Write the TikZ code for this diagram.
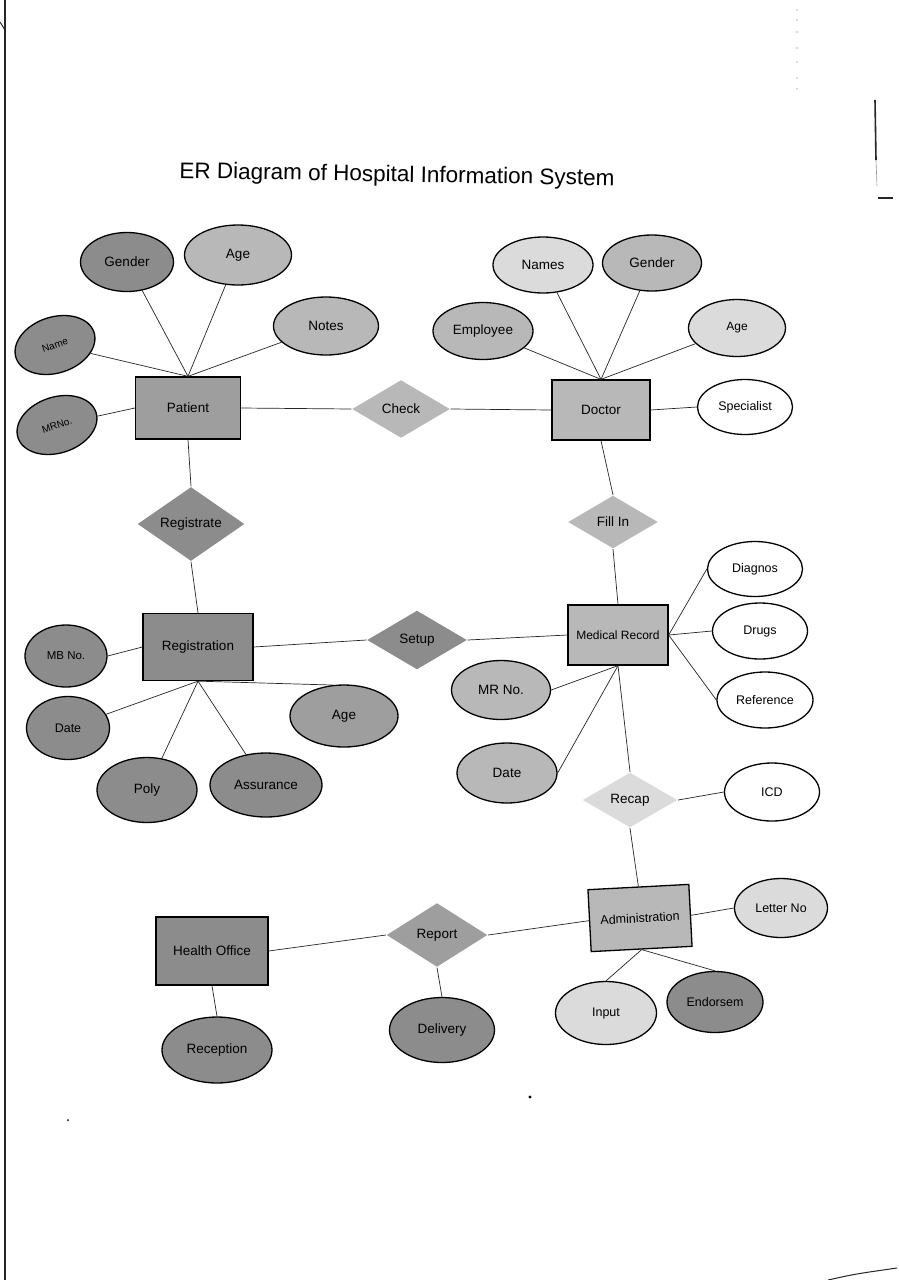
\documentclass[tikz,border=0pt]{standalone}
\usepackage{fontspec}
\setmainfont{Liberation Sans}
\usetikzlibrary{shapes.geometric}
\definecolor{dk}{gray}{0.55}
\definecolor{mdk}{gray}{0.62}
\definecolor{md}{gray}{0.72}
\definecolor{lt}{gray}{0.86}
\tikzset{
  base/.style={draw=black, line width=1.3pt, inner sep=1pt, font=\fontsize{13.5}{15}\selectfont},
  ent/.style={base, rectangle},
  attr/.style={base, ellipse},
  rel/.style={base, diamond, draw=none, inner sep=0pt},
  conn/.style={line width=0.7pt, black!85},
  scanmark/.style={black!85}
}
\begin{document}
\begin{tikzpicture}[x=1pt,y=-1pt]
\fill[white] (0,0) rectangle (898,1280);
\useasboundingbox (0,0) rectangle (898,1280);

% scan marks
\draw[scanmark, line width=2pt] (5,0) -- (5,1280);
\draw[scanmark, line width=1pt] (0,22) -- (5,30);
\draw[scanmark, line width=1.6pt] (875,100) -- (876,160);
\draw[scanmark, line width=0.6pt, black!40] (876,160) -- (877,186);
\draw[scanmark, line width=1.4pt] (878,198) -- (893,198);
\draw[scanmark, line width=1pt] (828,1280) .. controls (855,1274) .. (897,1268);
\fill (530,1097) circle (1.6pt);
\fill (68,1120) circle (1pt);
\foreach \yy in {10,20,32,48,62,78,89} \fill[black!60] (797,\yy) circle (0.7pt);

% title
\node[rotate=-1, font=\fontsize{22.5}{26}\selectfont] (title) at (397,176) {ER Diagram of Hospital Information System};

% ---------- Patient ----------
\node[ent, fill=mdk, minimum width=105pt, minimum height=62pt] (patient) at (188,408) {Patient};
\node[attr, fill=dk, minimum width=93pt, minimum height=59pt] (pgender) at (127,262) {Gender};
\node[attr, fill=md, minimum width=107pt, minimum height=60pt] (page) at (238,255) {Age};
\node[attr, fill=md, minimum width=105pt, minimum height=58pt] (pnotes) at (326,326) {Notes};
\node[attr, fill=dk, minimum width=82pt, minimum height=56pt, rotate=18, font=\fontsize{10}{12}\selectfont] (pname) at (55,345) {Name};
\node[attr, fill=dk, minimum width=82pt, minimum height=56pt, rotate=18, font=\fontsize{10}{12}\selectfont] (pmrno) at (57,425) {MRNo.};
\node[rel, fill=md, minimum width=98pt, minimum height=58pt] (check) at (401,409) {Check};

% ---------- Doctor ----------
\node[ent, fill=md, minimum width=98pt, minimum height=60pt] (doctor) at (601,410) {Doctor};
\node[attr, fill=lt, minimum width=100pt, minimum height=56pt] (dnames) at (543,265) {Names};
\node[attr, fill=md, minimum width=99pt, minimum height=56pt] (dgender) at (652,263) {Gender};
\node[attr, fill=md, minimum width=100pt, minimum height=57pt] (demployee) at (483,331) {Employee};
\node[attr, fill=lt, minimum width=97pt, minimum height=57pt, font=\fontsize{12}{14}\selectfont] (dage) at (737,328) {Age};
\node[attr, fill=white, minimum width=95pt, minimum height=55pt, font=\fontsize{12.5}{14}\selectfont] (dspec) at (745,407) {Specialist};

% ---------- Relations ----------
\node[rel, fill=dk, minimum width=107pt, minimum height=54pt] (registrate) at (191,524) {Registrate};
\node[rel, fill=md, minimum width=90pt, minimum height=53pt] (fillin) at (613,522) {Fill In};

% ---------- Registration ----------
\node[ent, fill=dk, minimum width=110pt, minimum height=67pt] (registration) at (198,647) {Registration};
\node[rel, fill=dk, minimum width=100pt, minimum height=59pt] (setup) at (417,640) {Setup};
\node[attr, fill=dk, minimum width=82pt, minimum height=62pt, font=\fontsize{11.5}{13}\selectfont] (rmbno) at (66,656) {MB No.};
\node[attr, fill=dk, minimum width=83pt, minimum height=63pt, font=\fontsize{12.5}{14}\selectfont] (rdate) at (68,728) {Date};
\node[attr, fill=dk, minimum width=100pt, minimum height=65pt] (rpoly) at (147,790) {Poly};
\node[attr, fill=dk, minimum width=112pt, minimum height=64pt] (rassur) at (266,785) {Assurance};
\node[attr, fill=mdk, minimum width=108pt, minimum height=62pt] (rage) at (344,716) {Age};

% ---------- Medical Record ----------
\node[ent, fill=md, minimum width=100pt, minimum height=60pt, font=\fontsize{12}{14}\selectfont] (mr) at (618,635) {Medical Record};
\node[attr, fill=white, minimum width=95pt, minimum height=55pt, font=\fontsize{12.5}{14}\selectfont] (mdiag) at (755,569) {Diagnos};
\node[attr, fill=white, minimum width=95pt, minimum height=56pt, font=\fontsize{12.5}{14}\selectfont] (mdrugs) at (760,631) {Drugs};
\node[attr, fill=white, minimum width=96pt, minimum height=56pt, font=\fontsize{12.5}{14}\selectfont] (mref) at (765,700) {Reference};
\node[attr, fill=md, minimum width=99pt, minimum height=59pt] (mmrno) at (501,690) {MR No.};
\node[attr, fill=md, minimum width=100pt, minimum height=60pt] (mdate) at (507,773) {Date};
\node[rel, fill=lt, minimum width=95pt, minimum height=55pt] (recap) at (630,800) {Recap};
\node[attr, fill=white, minimum width=95pt, minimum height=58pt, font=\fontsize{12.5}{14}\selectfont] (micd) at (772,792) {ICD};

% ---------- Administration ----------
\node[ent, fill=md, minimum width=101pt, minimum height=62pt, rotate=3, font=\fontsize{12.5}{14}\selectfont] (admin) at (640,918) {Administration};
\node[attr, fill=lt, minimum width=93pt, minimum height=59pt, font=\fontsize{12.5}{14}\selectfont] (aletter) at (781,908) {Letter No};
\node[attr, fill=lt, minimum width=101pt, minimum height=63pt, font=\fontsize{12.5}{14}\selectfont] (ainput) at (606,1013) {Input};
\node[attr, fill=dk, minimum width=96pt, minimum height=61pt, font=\fontsize{12.5}{14}\selectfont] (aendors) at (715,1002) {Endorsem};

% ---------- Health Office ----------
\node[ent, fill=dk, minimum width=112pt, minimum height=68pt] (health) at (212,951) {Health Office};
\node[rel, fill=mdk, minimum width=101pt, minimum height=64pt] (report) at (437,935) {Report};
\node[attr, fill=dk, minimum width=110pt, minimum height=66pt] (hrecep) at (217,1050) {Reception};
\node[attr, fill=dk, minimum width=105pt, minimum height=65pt] (rdeliv) at (442,1030) {Delivery};

% ---------- connectors ----------
\draw[conn] (pgender) -- (patient.north);
\draw[conn] (page) -- (patient.north);
\draw[conn] (pnotes) -- (patient.north);
\draw[conn] (pname) -- (patient.north);
\draw[conn] (pmrno) -- (patient.west);
\draw[conn] (patient.east) -- (check.west);
\draw[conn] (check.east) -- (doctor.west);
\draw[conn] (dnames) -- (doctor.north);
\draw[conn] (dgender) -- (doctor.north);
\draw[conn] (demployee) -- (doctor.north);
\draw[conn] (dage) -- (doctor.north);
\draw[conn] (doctor.east) -- (dspec.west);
\draw[conn] (patient.south) -- (registrate.north);
\draw[conn] (registrate.south) -- (registration.north);
\draw[conn] (doctor.south) -- (fillin.north);
\draw[conn] (fillin.south) -- (mr.north);
\draw[conn] (rmbno.east) -- (registration.west);
\draw[conn] (rdate) -- (registration.south);
\draw[conn] (rpoly) -- (registration.south);
\draw[conn] (rassur) -- (registration.south);
\draw[conn] (registration.south) -- (rage.110);
\draw[conn] (registration.east) -- (setup.west);
\draw[conn] (setup.east) -- (mr.west);
\draw[conn] (mr.east) -- (mdiag.west);
\draw[conn] (mr.east) -- (mdrugs.west);
\draw[conn] (mr.east) -- (mref.west);
\draw[conn] (mr.south) -- (mmrno.east);
\draw[conn] (mr.south) -- (mdate.east);
\draw[conn] (mr.south) -- (recap.north);
\draw[conn] (recap.east) -- (micd.west);
\draw[conn] (recap.south) -- (admin.north);
\draw[conn] (admin.east) -- (aletter.west);
\draw[conn] (admin.south) -- (ainput.north);
\draw[conn] (admin.south) -- (aendors.north);
\draw[conn] (report.east) -- (admin.west);
\draw[conn] (health.east) -- (report.west);
\draw[conn] (health.south) -- (hrecep.north);
\draw[conn] (report.south) -- (rdeliv.north);
\end{tikzpicture}
\end{document}
